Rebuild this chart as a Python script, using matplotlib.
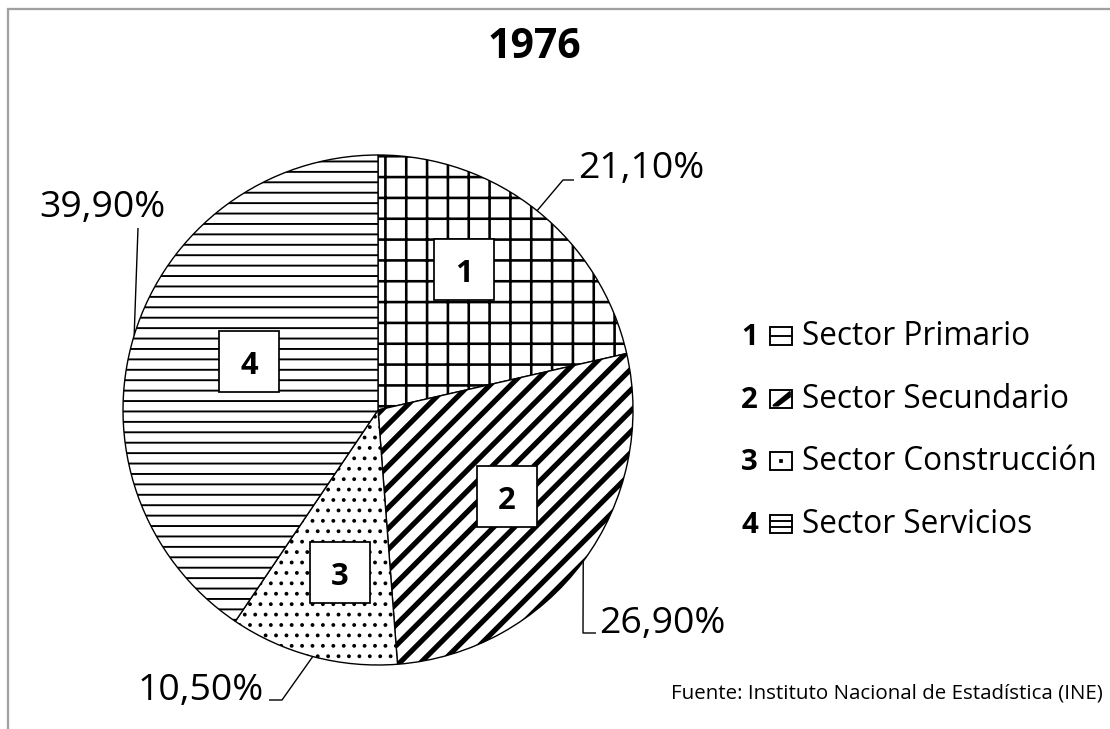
import numpy as np
import matplotlib
matplotlib.use('Agg')
from matplotlib import pyplot as plt
from matplotlib.patches import Rectangle, Polygon

# data
sectors = ['Sector Primario', 'Sector Secundario', 'Sector Construcción', 'Sector Servicios']
values = [21.1, 26.9, 10.5, 39.9]
pct_labels = ['21,10%', '26,90%', '10,50%', '39,90%']
numbers = ['1', '2', '3', '4']
title = '1976'
source = 'Fuente: Instituto Nacional de Estadística (INE)'

W, H, DPI = 1110, 729, 125
plt.rcParams['font.family'] = ['Open Sans', 'DejaVu Sans']

fig = plt.figure(figsize=(W / DPI, H / DPI), dpi=DPI)
ax = fig.add_axes([0, 0, 1, 1])

def pt(px):
    return px * 72 / DPI

def Y(y):
    # pixel row -> data y
    return H - y

cx, cy, R = 378, 410, 255
hatches = ['+', '//', '..', '--']
hatch_lw = [1.5, 3.0, 1.0, 1.1]

wedges, _ = ax.pie(values, center=(cx, Y(cy)), radius=R, startangle=90,
                   counterclock=False, frame=True,
                   wedgeprops=dict(facecolor='white', edgecolor='black', linewidth=0.8))
for w, h, lw in zip(wedges, hatches, hatch_lw):
    w.set_hatch(h)
    if hasattr(w, 'set_hatch_linewidth'):
        w.set_hatch_linewidth(lw)

# leader lines from the middle of each wedge's arc
elbows = [[(563, 180), (574, 180)],
          [(583, 633), (596, 633)],
          [(282, 700), (269, 700)],
          [(138, 228)]]
text_pos = [(578, 178, 'left'), (599, 633, 'left'), (264, 700, 'right'), (102, 217, 'center')]
for w, lab, pts, (tx, ty, ha) in zip(wedges, pct_labels, elbows, text_pos):
    mid = np.deg2rad((w.theta1 + w.theta2) / 2)
    x0, y0 = cx + R * np.cos(mid), Y(cy) + R * np.sin(mid)
    xs = [x0] + [p[0] for p in pts]
    ys = [y0] + [Y(p[1]) for p in pts]
    ax.plot(xs, ys, color='black', lw=0.8, solid_capstyle='butt')
    ax.text(tx, Y(ty), lab, ha=ha, va='baseline', fontsize=pt(37.5))

# numbered boxes inside the slices
box_pos = [(464, 270), (507, 497), (340, 573), (249, 362)]
for n, (bx, by) in zip(numbers, box_pos):
    ax.add_patch(Rectangle((bx - 30, Y(by) - 30), 60, 61, facecolor='white',
                           edgecolor='black', lw=1.0, zorder=5))
    ax.text(bx, Y(by + 12), n, ha='center', va='baseline', fontsize=pt(31),
            fontweight='bold', zorder=6)

# legend
for i, (n, s) in enumerate(zip(numbers, sectors)):
    base = 345 + i * 62.7
    ax.text(741, Y(base), n, ha='left', va='baseline', fontsize=pt(29.5), fontweight='bold')
    x0, y0 = 770, Y(base)
    ax.add_patch(Rectangle((x0, y0), 22, 18, facecolor='white', edgecolor='black', lw=1.1))
    if i == 0:
        ax.plot([x0, x0 + 22], [y0 + 9, y0 + 9], color='black', lw=1.1)
    elif i == 1:
        ax.add_patch(Polygon([(x0 + 3, y0 + 2), (x0 + 20, y0 + 16), (x0 + 20, y0 + 11),
                              (x0 + 8, y0 + 2)], closed=True, color='black'))
    elif i == 2:
        ax.plot([x0 + 11], [y0 + 9], 'ks', ms=1.5)
    else:
        ax.plot([x0, x0 + 22], [y0 + 6, y0 + 6], color='black', lw=1.1)
        ax.plot([x0, x0 + 22], [y0 + 12, y0 + 12], color='black', lw=1.1)
    ax.text(802, Y(base), s, ha='left', va='baseline', fontsize=pt(31.5))

ax.text(W / 2 - 21, Y(58), title, ha='center', va='baseline', fontsize=pt(41), fontweight='bold')
ax.text(1103, Y(698), source, ha='right', va='baseline', fontsize=pt(20.5))

# grey frame (left and top edges)
ax.plot([8, 8, W], [0, Y(9), Y(9)], color='#a0a0a0', lw=1.3, solid_joinstyle='miter')

ax.set_xlim(0, W)
ax.set_ylim(0, H)
ax.set_aspect('auto')
ax.axis('off')

plt.savefig('out.png', dpi=DPI)
